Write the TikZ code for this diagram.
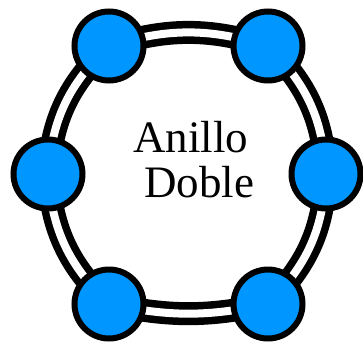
\documentclass[tikz,border=0pt]{standalone}
\usepackage{fontspec}
\setmainfont{Liberation Serif}
\usetikzlibrary{backgrounds}
\definecolor{nodeblue}{RGB}{0,150,255}
\tikzset{
  ringnode/.style={circle, draw=black, line width=6pt, fill=nodeblue, minimum size=69pt, inner sep=0pt},
  ringedge/.style={draw=black, line width=7.5pt, double=white, double distance=8pt},
  label text/.style={inner sep=0pt, anchor=base west, font=\fontsize{45}{45}\selectfont}
}
\begin{document}
\begin{tikzpicture}[x=1pt,y=-1pt]
\useasboundingbox (0,0) rectangle (363,342);
\node[ringnode] (tl) at (109,46) {};
\node[ringnode] (tr) at (268,46) {};
\node[ringnode] (r) at (326,174) {};
\node[ringnode] (br) at (268,304) {};
\node[ringnode] (bl) at (109,304) {};
\node[ringnode] (l) at (48,174) {};
\node[label text] (t1) at (133,152) {Anillo};
\node[label text] (t2) at (144,197) {Doble};
\begin{scope}[on background layer]
\draw[ringedge] (tl.center) to[bend left=17] (tr.center);
\draw[ringedge] (tr.center) to[bend left=21] (r.center);
\draw[ringedge] (r.center) to[bend left=21] (br.center);
\draw[ringedge] (br.center) to[bend left=12] (bl.center);
\draw[ringedge] (bl.center) to[bend left=21] (l.center);
\draw[ringedge] (l.center) to[bend left=21] (tl.center);
\end{scope}
\end{tikzpicture}
\end{document}
